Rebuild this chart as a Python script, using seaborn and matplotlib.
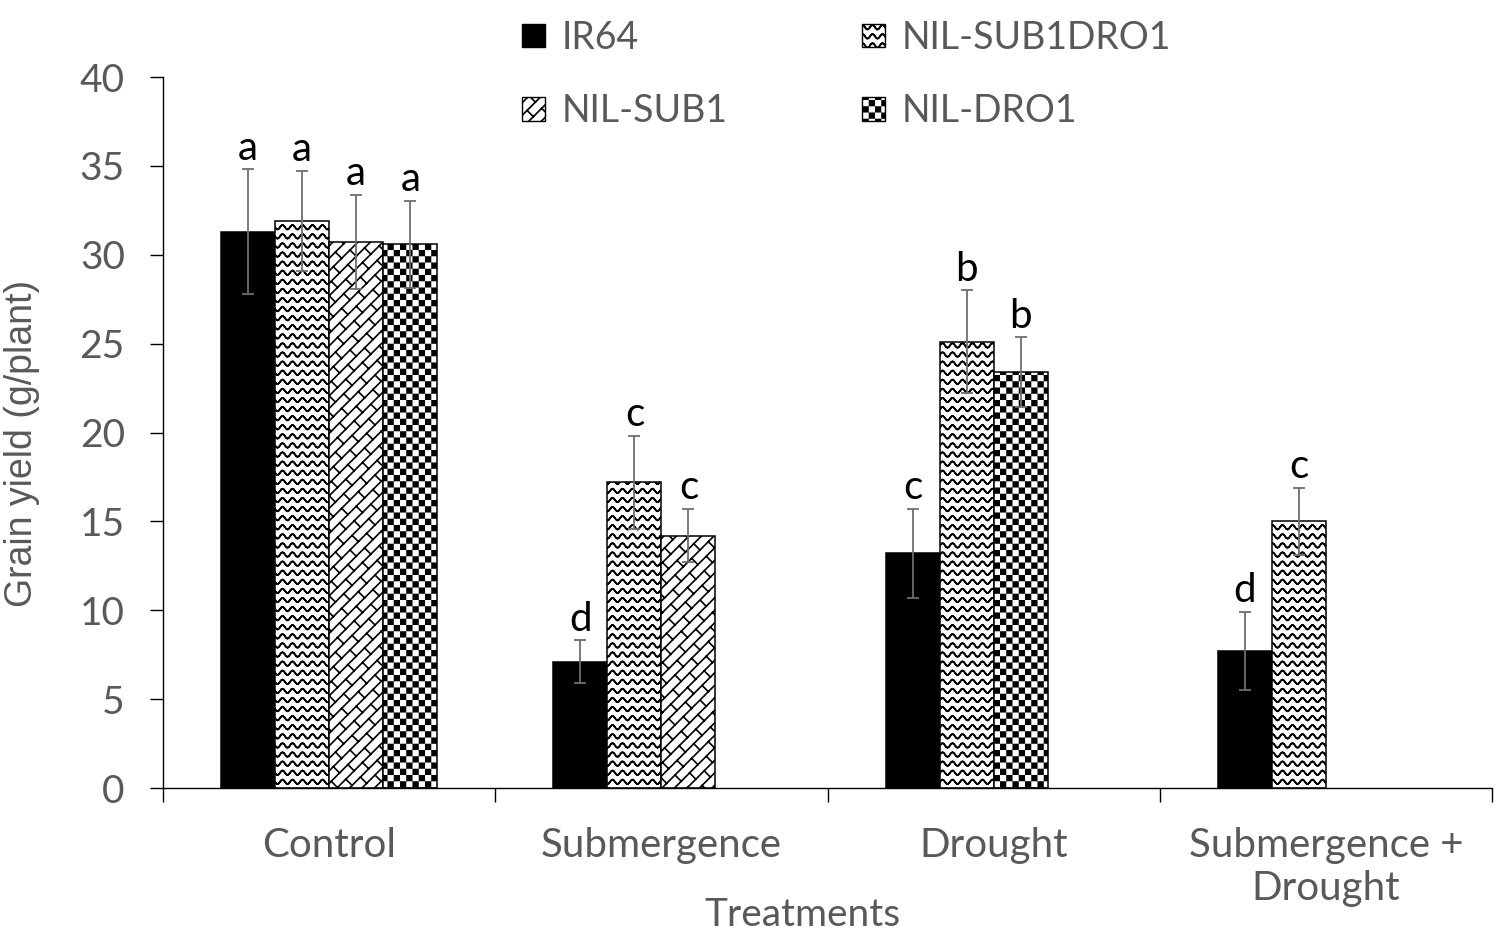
import warnings
import numpy as np
import matplotlib
matplotlib.use("Agg")
import matplotlib.pyplot as plt
import matplotlib.hatch as mhatch
from matplotlib.path import Path
from matplotlib.patches import Patch
import seaborn as sns

# custom hatch characters below are not in matplotlib's list
warnings.filterwarnings("ignore", message="hatch must consist")

# -----------------------------
# Data
# -----------------------------
treatments = ["Control", "Submergence", "Drought", "Submergence +\nDrought"]
genotypes = ["IR64", "NIL-SUB1DRO1", "NIL-SUB1", "NIL-DRO1"]

# grain yield (g/plant); None = genotype not in that treatment
yield_ir64 = [31.3, 7.1, 13.2, 7.7]
yield_sub1dro1 = [31.9, 17.2, 25.1, 15.0]
yield_sub1 = [30.7, 14.2, None, None]
yield_dro1 = [30.6, None, 23.4, None]

err_ir64 = [3.5, 1.2, 2.5, 2.2]
err_sub1dro1 = [2.8, 2.6, 2.9, 1.9]
err_sub1 = [2.65, 1.5, None, None]
err_dro1 = [2.45, None, 1.95, None]

letters_ir64 = ["a", "d", "c", "d"]
letters_sub1dro1 = ["a", "c", "b", "c"]
letters_sub1 = ["a", "c", None, None]
letters_dro1 = ["a", None, "b", None]

series = [
    ("IR64", yield_ir64, err_ir64, letters_ir64),
    ("NIL-SUB1DRO1", yield_sub1dro1, err_sub1dro1, letters_sub1dro1),
    ("NIL-SUB1", yield_sub1, err_sub1, letters_sub1),
    ("NIL-DRO1", yield_dro1, err_dro1, letters_dro1),
]

# fill colour and hatch per genotype
styles = {
    "IR64": ("black", None),
    "NIL-SUB1DRO1": ("white", "~"),
    "NIL-SUB1": ("white", "z"),
    "NIL-DRO1": ("white", "#"),
}


# -----------------------------
# Extra hatch patterns (wave, diagonal brick, checker)
# -----------------------------
class CustomHatch(mhatch.HatchPatternBase):
    char = None

    def __init__(self, hatch, density):
        self.paths = self.build() if (hatch and self.char in hatch) else []
        self.num_vertices = sum(len(v) for v, c in self.paths)

    def set_vertices_and_codes(self, vertices, codes):
        vertices[:] = np.concatenate([v for v, c in self.paths])
        codes[:] = np.concatenate([c for v, c in self.paths])


class WaveHatch(CustomHatch):
    char = "~"

    def build(self):
        paths = []
        xs = np.linspace(0, 1, 161)
        for j in range(12):
            ys = j / 11 + 0.022 * np.sin(2 * np.pi * 10 * xs)
            line = np.column_stack([xs, ys])
            v = np.vstack([line, line[::-1]])  # go and come back: no filled area
            c = np.full(len(v), Path.LINETO, dtype=Path.code_type)
            c[0] = Path.MOVETO
            paths.append((v, c))
        return paths


class BrickHatch(CustomHatch):
    char = "z"

    def build(self):
        n, brick = 8, 1 / 3  # lines per unit, brick length in x+y units
        seg = np.array([Path.MOVETO, Path.LINETO], dtype=Path.code_type)
        paths = []
        for k in range(-n, n + 1):
            c = k / n
            paths.append((np.array([[c - 0.1, -0.1], [c + 1.1, 1.1]]), seg))
        for k in range(-n, n):
            c = k / n
            off = (k % 2) * brick / 2
            for m in range(-4, 10):
                d = m * brick + off  # x + y stays constant along a cross bar
                u = (d - c) / 2
                paths.append((np.array([[c + u, u],
                                        [c + u + 0.5 / n, u - 0.5 / n]]), seg))
        return paths


class CheckerHatch(CustomHatch):
    char = "#"

    def build(self):
        n = 16
        s = 1 / n
        e = 0.008  # shrink so the hatch stroke brings squares back to size
        sq = np.array([Path.MOVETO, Path.LINETO, Path.LINETO, Path.LINETO,
                       Path.CLOSEPOLY], dtype=Path.code_type)
        paths = []
        for i in range(n):
            for j in range(n):
                if (i + j) % 2 == 0:
                    x0, y0 = i * s + e, j * s + e
                    x1, y1 = (i + 1) * s - e, (j + 1) * s - e
                    paths.append((np.array([[x0, y0], [x1, y0], [x1, y1],
                                            [x0, y1], [x0, y0]]), sq))
        return paths


mhatch._hatch_types.extend([WaveHatch, BrickHatch, CheckerHatch])

# -----------------------------
# Plot
# -----------------------------
sns.set_theme(style="ticks")
plt.rcParams["font.family"] = ["Lato", "DejaVu Sans"]
plt.rcParams["hatch.linewidth"] = 1.2

grey = "#595959"

fig, ax = plt.subplots(figsize=(15, 9.35), dpi=100)
fig.subplots_adjust(left=0.1087, right=0.9947, bottom=0.1572, top=0.9176)

bar_w = 0.1627
for t in range(len(treatments)):
    slot = 0
    for name, vals, errs, labs in series:
        if vals[t] is None:
            continue
        x = t + (slot - 1.5) * bar_w
        fill, hatch = styles[name]
        ax.bar(x, vals[t], width=bar_w, color=fill, edgecolor="black",
               hatch=hatch, linewidth=1.1, zorder=2)
        ax.errorbar(x, vals[t], yerr=errs[t], fmt="none", ecolor="#6e6e6e",
                    elinewidth=1.3, capsize=4.5, capthick=1.3, zorder=3)
        ax.annotate(labs[t], (x, vals[t] + errs[t]), xytext=(0, 2),
                    textcoords="offset points", ha="center", va="bottom",
                    fontsize=29, color="black")
        slot += 1

ax.set_xlim(-0.5, len(treatments) - 0.5)
ax.set_ylim(0, 40)
ax.set_yticks(range(0, 41, 5))
ax.set_xticks(range(len(treatments)))
ax.set_xticklabels(treatments, fontsize=29, color=grey)
ax.set_xticks(np.arange(-0.5, len(treatments), 1), minor=True)
ax.tick_params(axis="x", which="major", length=0, pad=28)
ax.tick_params(axis="x", which="minor", length=10, width=1, color="black",
               direction="out")
ax.tick_params(axis="y", length=9.5, width=1, color="black", direction="out",
               labelsize=28, labelcolor=grey, pad=18)
sns.despine(ax=ax)
for side in ["left", "bottom"]:
    ax.spines[side].set_color("black")
    ax.spines[side].set_linewidth(1.0)

ax.set_ylabel("Grain yield (g/plant)", fontsize=27, color=grey,
              family=["Liberation Sans", "DejaVu Sans"])
ax.yaxis.set_label_coords(-0.0926, 0.485)
ax.set_xlabel("Treatments", fontsize=28, color=grey)
ax.xaxis.set_label_coords(0.481, -0.153)

# legend: column-wise order gives IR64 / NIL-SUB1 | NIL-SUB1DRO1 / NIL-DRO1
legend_order = ["IR64", "NIL-SUB1", "NIL-SUB1DRO1", "NIL-DRO1"]
handles = [Patch(facecolor=styles[g][0], edgecolor="black", hatch=styles[g][1],
                 linewidth=1.0) for g in legend_order]
fig.legend(handles, legend_order, loc="upper left", bbox_to_anchor=(0.348, 0.979),
           ncol=2, frameon=False, fontsize=27, labelcolor=grey,
           handlelength=0.6, handleheight=0.6, handletextpad=0.45,
           columnspacing=3.6, labelspacing=1.0, borderpad=0, borderaxespad=0)

fig.savefig("out.png", dpi=100)
plt.close(fig)
